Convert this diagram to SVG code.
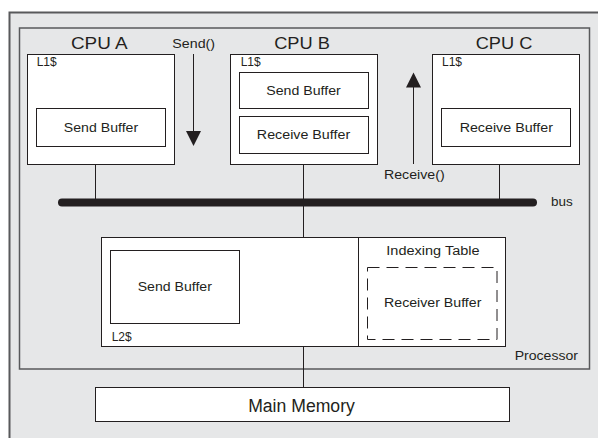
<svg xmlns="http://www.w3.org/2000/svg" width="598" height="438" viewBox="0 0 598 438">
<style>
.box{fill:#ffffff;stroke:#231f20;stroke-width:1}
.frame{fill:none;stroke:#58595b;stroke-width:1.5}
.ln{stroke:#231f20;stroke-width:1;fill:none}
text{font-family:"Liberation Sans",Arial,sans-serif;fill:#231f20}
.s{font-size:12px}
.m{font-size:12.5px}
.big{font-size:16px}
.mm{font-size:18px}
.c{text-anchor:middle}
</style>
<rect x="0" y="0" width="598" height="438" fill="#ffffff"/>
<rect x="9.5" y="12.5" width="600" height="440" fill="#e6e7e8" stroke="#58595b" stroke-width="2"/>
<g id="processor">
<rect class="frame" x="19.5" y="28" width="570" height="341"/>
<text class="s" x="578" y="359.5" text-anchor="end" textLength="63.3" lengthAdjust="spacingAndGlyphs">Processor</text>
</g>
<g id="connectors">
<line class="ln" x1="95.5" y1="164.5" x2="95.5" y2="200"/>
<line class="ln" x1="303.5" y1="164.5" x2="303.5" y2="237.5"/>
<line class="ln" x1="499.5" y1="164.5" x2="499.5" y2="200"/>
<line class="ln" x1="303.5" y1="346.5" x2="303.5" y2="387.5"/>
<line x1="62" y1="202.5" x2="533" y2="202.5" stroke="#231f20" stroke-width="8" stroke-linecap="round"/>
<line class="ln" x1="193.5" y1="54" x2="193.5" y2="133"/>
<polygon points="186,131 201,131 193.5,146" fill="#231f20"/>
<line class="ln" x1="413.5" y1="164" x2="413.5" y2="86"/>
<polygon points="406,87.5 421,87.5 413.5,72.5" fill="#231f20"/>
<text class="m c" x="193.7" y="47.5" textLength="42.7" lengthAdjust="spacingAndGlyphs">Send()</text>
<text class="m c" x="414.3" y="179" textLength="60.7" lengthAdjust="spacingAndGlyphs">Receive()</text>
<text class="m" x="551" y="206" textLength="21.7" lengthAdjust="spacingAndGlyphs">bus</text>
</g>
<g id="cpuA">
<text class="big c" x="99.3" y="49" textLength="56.7" lengthAdjust="spacingAndGlyphs">CPU A</text>
<rect class="box" x="27.5" y="54.5" width="147" height="110"/>
<text class="s" x="36.7" y="66">L1$</text>
<rect class="box" x="36.5" y="108.5" width="129" height="38"/>
<text class="s c" x="101" y="131.5" textLength="74.3" lengthAdjust="spacingAndGlyphs">Send Buffer</text>
</g>
<g id="cpuB">
<text class="big c" x="302" y="49" textLength="55.7" lengthAdjust="spacingAndGlyphs">CPU B</text>
<rect class="box" x="230.5" y="54.5" width="147" height="110"/>
<text class="s" x="240.7" y="66">L1$</text>
<rect class="box" x="239.5" y="72.5" width="129" height="36"/>
<text class="s c" x="303.5" y="95" textLength="74.5" lengthAdjust="spacingAndGlyphs">Send Buffer</text>
<rect class="box" x="239.5" y="116.5" width="129" height="37"/>
<text class="s c" x="303.5" y="139" textLength="93.3" lengthAdjust="spacingAndGlyphs">Receive Buffer</text>
</g>
<g id="cpuC">
<text class="big c" x="504" y="49" textLength="56.6" lengthAdjust="spacingAndGlyphs">CPU C</text>
<rect class="box" x="432.5" y="54.5" width="147" height="110"/>
<text class="s" x="442" y="66">L1$</text>
<rect class="box" x="441.5" y="108.5" width="129" height="38"/>
<text class="s c" x="506.3" y="131.5" textLength="93.3" lengthAdjust="spacingAndGlyphs">Receive Buffer</text>
</g>
<g id="l2">
<rect class="box" x="101.5" y="237.5" width="404" height="109"/>
<line class="ln" x1="358.5" y1="237.5" x2="358.5" y2="346.5"/>
<rect class="box" x="110.5" y="250.5" width="129" height="73"/>
<text class="s c" x="174.8" y="290.5" textLength="74.3" lengthAdjust="spacingAndGlyphs">Send Buffer</text>
<text class="s" x="111.7" y="340.5">L2$</text>
<text class="s c" x="433" y="255" textLength="93.3" lengthAdjust="spacingAndGlyphs">Indexing Table</text>
<rect x="367.5" y="267.5" width="129.5" height="72" fill="none" stroke="#231f20" stroke-width="1" stroke-dasharray="12,7"/>
<text class="s c" x="432.7" y="307" textLength="97.3" lengthAdjust="spacingAndGlyphs">Receiver Buffer</text>
</g>
<g id="mainMemory">
<rect class="box" x="95.5" y="387.5" width="414" height="34"/>
<text class="mm c" x="301.5" y="412" textLength="106.7" lengthAdjust="spacingAndGlyphs">Main Memory</text>
</g>
</svg>
